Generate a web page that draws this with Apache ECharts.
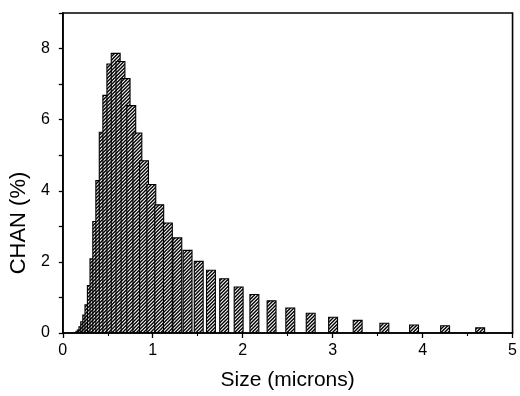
<!DOCTYPE html>
<html>
<head>
<meta charset="utf-8">
<script src="https://cdn.jsdelivr.net/npm/echarts@6/dist/echarts.min.js"></script>
<style>
html,body{margin:0;padding:0;background:#fff;}
#chart{width:520px;height:396px;}
</style>
</head>
<body>
<div id="chart"></div>
<script>
// Particle size (microns), bin centres
var sizes = [0.193, 0.210, 0.229, 0.249, 0.272, 0.296, 0.323, 0.352, 0.383, 0.417,
             0.455, 0.495, 0.540, 0.588, 0.641, 0.698, 0.761, 0.829, 0.903, 0.984,
             1.072, 1.168, 1.273, 1.387, 1.511, 1.647, 1.794, 1.955, 2.130, 2.321,
             2.529, 2.756, 3.005, 3.278, 3.575, 3.905, 4.250, 4.640];
// Channel percentage
var chan = [0.05, 0.10, 0.19, 0.33, 0.52, 0.81, 1.35, 2.10, 3.15, 4.30,
            5.66, 6.70, 7.58, 7.88, 7.65, 7.17, 6.41, 5.64, 4.86, 4.19,
            3.62, 3.11, 2.69, 2.34, 2.03, 1.78, 1.54, 1.31, 1.10, 0.92,
            0.72, 0.57, 0.46, 0.37, 0.29, 0.24, 0.22, 0.16];
var xTicks = [0, 1, 2, 3, 4, 5];
var yTicks = [0, 2, 4, 6, 8];

var data = sizes.map(function (s, i) { return [s, chan[i]]; });

// hatch pattern "////"
var T = 7;
var tile = document.createElement('canvas');
tile.width = T; tile.height = T;
var tc = tile.getContext('2d');
tc.fillStyle = '#fff'; tc.fillRect(0, 0, T, T);
tc.strokeStyle = '#000'; tc.lineWidth = 1.4;
for (var c = -2 * T; c <= 3 * T; c += T / 2) {
  tc.beginPath(); tc.moveTo(c - T, T + T); tc.lineTo(c + 2 * T, -T); tc.stroke();
}

var chart = echarts.init(document.getElementById('chart'), null, {renderer: 'canvas'});
var font = 'Liberation Sans, Arial, sans-serif';
chart.setOption({
  animation: false,
  backgroundColor: '#fff',
  grid: {left: 62, right: 5, top: 13, bottom: 59, show: true, borderColor: '#000', borderWidth: 1.6},
  xAxis: {
    type: 'value', min: 0, max: 5, interval: 1,
    name: 'Size (microns)', nameLocation: 'middle', nameGap: 37,
    nameTextStyle: {fontFamily: font, fontSize: 21, color: '#000'},
    axisLine: {show: true, lineStyle: {color: '#000', width: 1.6}},
    axisTick: {show: true, length: 5, lineStyle: {color: '#000', width: 1.3}},
    minorTick: {show: true, splitNumber: 2, length: 3, lineStyle: {color: '#000', width: 1.1}},
    axisLabel: {fontFamily: font, fontSize: 16, color: '#000', margin: 10,
      formatter: function (v) { return xTicks.indexOf(v) >= 0 ? String(v) : ''; }},
    splitLine: {show: false}
  },
  yAxis: {
    type: 'value', min: 0, max: 9, interval: 1,
    name: 'CHAN (%)', nameLocation: 'middle', nameGap: 32,
    nameTextStyle: {fontFamily: font, fontSize: 22, color: '#000', padding: [0, 100, 0, 0]},
    axisLine: {show: true, lineStyle: {color: '#000', width: 1.6}},
    axisTick: {show: true, length: 4, lineStyle: {color: '#000', width: 1.3}},
    axisLabel: {fontFamily: font, fontSize: 16, color: '#000', margin: 13,
      formatter: function (v) { return yTicks.indexOf(v) >= 0 ? String(v) : ''; }},
    splitLine: {show: false}
  },
  series: [{
    type: 'bar',
    data: data,
    barWidth: 10,
    itemStyle: {
      color: {image: tile, repeat: 'repeat'},
      borderColor: '#000',
      borderWidth: 1.1
    }
  }]
});
</script>
</body>
</html>
